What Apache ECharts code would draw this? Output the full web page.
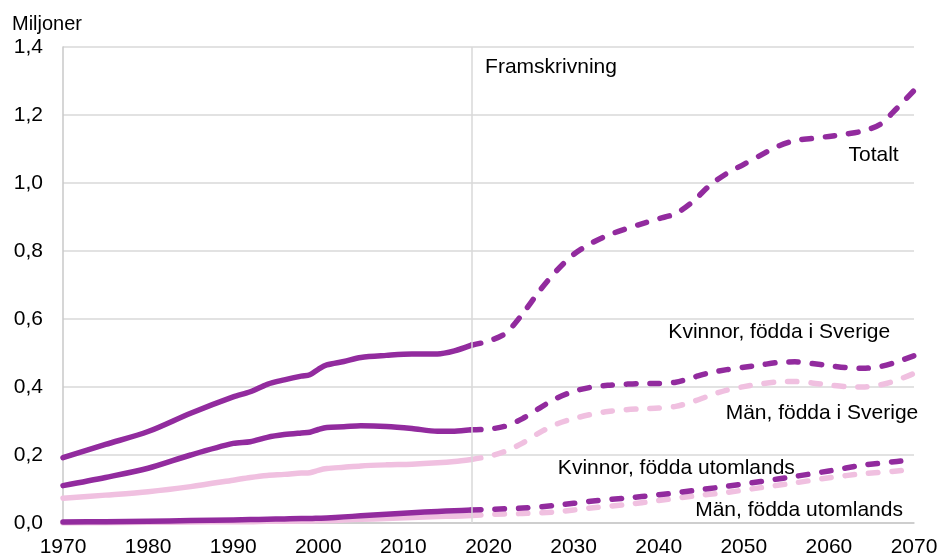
<!DOCTYPE html>
<html>
<head>
<meta charset="utf-8">
<script src="https://cdn.jsdelivr.net/npm/echarts@6/dist/echarts.min.js"></script>
<style>
html,body{margin:0;padding:0;background:#fff;}
#c{width:942px;height:560px;}
</style>
</head>
<body>
<div id="c"></div>
<script>
// ---- data ----
var yearsHist  = [1970, 1975, 1980, 1985, 1990, 1992, 1994, 1996, 1998, 1999, 2000, 2001, 2003, 2005, 2008, 2011, 2014, 2016, 2018];
var totalHist  = [0.192, 0.231, 0.269, 0.323, 0.371, 0.386, 0.408, 0.421, 0.432, 0.436, 0.452, 0.465, 0.475, 0.487, 0.493, 0.497, 0.497, 0.506, 0.523];
var kvSveHist  = [0.110, 0.134, 0.161, 0.200, 0.234, 0.239, 0.252, 0.260, 0.265, 0.267, 0.275, 0.281, 0.283, 0.286, 0.284, 0.278, 0.270, 0.270, 0.274];
var manSveHist = [0.073, 0.082, 0.092, 0.107, 0.126, 0.134, 0.140, 0.143, 0.147, 0.148, 0.155, 0.160, 0.164, 0.168, 0.171, 0.173, 0.177, 0.181, 0.187];
var kvUtlHist  = [0.003, 0.004, 0.005, 0.007, 0.009, 0.010, 0.011, 0.012, 0.013, 0.013, 0.014, 0.015, 0.018, 0.021, 0.026, 0.030, 0.034, 0.036, 0.038];
var manUtlHist = [0.000, 0.001, 0.002, 0.003, 0.004, 0.004, 0.005, 0.005, 0.006, 0.006, 0.007, 0.007, 0.009, 0.011, 0.013, 0.016, 0.019, 0.020, 0.022];

var yearsProj  = [2018, 2020, 2022, 2024, 2026, 2028, 2030, 2032, 2034, 2036, 2038, 2040, 2042, 2044, 2046, 2048, 2050, 2052, 2054, 2056, 2058, 2060, 2062, 2064, 2066, 2068, 2070];
var totalProj  = [0.523, 0.535, 0.558, 0.615, 0.683, 0.742, 0.790, 0.822, 0.846, 0.864, 0.880, 0.895, 0.910, 0.945, 0.993, 1.028, 1.055, 1.082, 1.108, 1.125, 1.131, 1.137, 1.144, 1.153, 1.172, 1.220, 1.272];
var kvSveProj  = [0.274, 0.276, 0.285, 0.307, 0.338, 0.367, 0.387, 0.399, 0.405, 0.408, 0.410, 0.410, 0.414, 0.428, 0.442, 0.451, 0.458, 0.465, 0.472, 0.474, 0.469, 0.463, 0.457, 0.455, 0.460, 0.474, 0.492];
var manSveProj = [0.187, 0.196, 0.211, 0.235, 0.266, 0.291, 0.307, 0.319, 0.328, 0.333, 0.336, 0.338, 0.343, 0.357, 0.375, 0.391, 0.401, 0.409, 0.415, 0.416, 0.412, 0.406, 0.401, 0.400, 0.406, 0.420, 0.440];

var yearsProjUtl = [2018, 2020, 2024, 2028, 2032, 2036, 2040, 2044, 2048, 2052, 2056, 2060, 2064, 2068, 2070];
var kvUtlProj    = [0.038, 0.040, 0.044, 0.052, 0.064, 0.073, 0.083, 0.095, 0.108, 0.122, 0.137, 0.153, 0.170, 0.181, 0.186];
var manUtlProj   = [0.022, 0.025, 0.028, 0.033, 0.044, 0.054, 0.066, 0.079, 0.090, 0.104, 0.118, 0.133, 0.145, 0.153, 0.158];

var projStartYear = 2018;
var yAxisTitle = 'Miljoner';
var projTitle = 'Framskrivning';
var seriesNames = ['Totalt', 'Kvinnor, födda i Sverige', 'Män, födda i Sverige', 'Kvinnor, födda utomlands', 'Män, födda utomlands'];
// label anchors in data coordinates [year, value]
var labelAnchors = [[2068.2, 1.082], [2067.2, 0.562], [2070.5, 0.324], [2056.0, 0.162], [2068.7, 0.038]];
var projAnchor = [2019.6, 1.341];

// ---- styles ----
var DARK = '#922B9E';
var PINK = '#F0C0E0';
var FONT = 'Liberation Sans, Arial, sans-serif';
var FS = 21;

function pairs(xs, ys){ return xs.map(function(x,i){ return [x, ys[i]]; }); }

function mk(name, xs, ys, color, dashed, extra){
  var s = {
    name: name,
    type: 'line',
    data: pairs(xs, ys),
    smooth: 0.3,
    showSymbol: false,
    symbol: 'none',
    silent: true,
    lineStyle: { color: color, width: 5.5, cap: 'round', join: 'round' }
  };
  if (dashed) { s.lineStyle.type = [9.5, 14]; }
  if (extra) { for (var k in extra) s[k] = extra[k]; }
  return s;
}

var chart = echarts.init(document.getElementById('c'), null, {renderer: 'canvas'});

var series = [
  mk('mu_h', yearsHist, manUtlHist, PINK, false),
  mk('ms_h', yearsHist, manSveHist, PINK, false),
  mk('ku_h', yearsHist, kvUtlHist, DARK, false),
  mk('ks_h', yearsHist, kvSveHist, DARK, false),
  mk('t_h', yearsHist, totalHist, DARK, false, {
    markLine: {
      silent: true, symbol: 'none', label: {show: false},
      lineStyle: {color: '#D9D9D9', width: 1.5, type: 'solid'},
      data: [{xAxis: projStartYear}]
    }
  }),
  mk('mu_p', yearsProjUtl, manUtlProj, PINK, true),
  mk('ms_p', yearsProj, manSveProj, PINK, true),
  mk('ku_p', yearsProjUtl, kvUtlProj, DARK, true),
  mk('ks_p', yearsProj, kvSveProj, DARK, true),
  mk('t_p', yearsProj, totalProj, DARK, true)
];

chart.setOption({
  animation: false,
  backgroundColor: '#fff',
  grid: { left: 63, right: 28, top: 47, bottom: 37, containLabel: false },
  xAxis: {
    type: 'value', min: 1970, max: 2070, interval: 10,
    axisLine: { show: true, lineStyle: { color: '#C8C8C8', width: 1.5 } },
    axisTick: { show: false },
    splitLine: { show: false },
    axisLabel: { color: '#000', fontFamily: FONT, fontSize: FS, margin: 14, formatter: function(v){ return String(v); } }
  },
  yAxis: {
    type: 'value', min: 0, max: 1.4, interval: 0.2,
    axisLine: { show: true, lineStyle: { color: '#C8C8C8', width: 1.5 } },
    axisTick: { show: false },
    splitLine: { show: true, lineStyle: { color: '#D9D9D9', width: 1.5 } },
    axisLabel: { color: '#000', fontFamily: FONT, fontSize: FS, margin: 20,
      formatter: function(v){ return v.toFixed(1).replace('.', ','); } }
  },
  series: series
});

var gfx = [];
gfx.push({ type: 'text', x: 12, y: 24, style: { text: yAxisTitle, fill: '#000', font: '20px ' + FONT, textAlign: 'left', textVerticalAlign: 'middle' } });
var pp = chart.convertToPixel({gridIndex: 0}, projAnchor);
gfx.push({ type: 'text', x: pp[0], y: pp[1], style: { text: projTitle, fill: '#000', font: FS + 'px ' + FONT, textAlign: 'left', textVerticalAlign: 'middle' } });
labelAnchors.forEach(function(a, i){
  var p = chart.convertToPixel({gridIndex: 0}, a);
  gfx.push({ type: 'text', x: p[0], y: p[1], style: { text: seriesNames[i], fill: '#000', font: FS + 'px ' + FONT, textAlign: 'right', textVerticalAlign: 'middle' } });
});
chart.setOption({ graphic: gfx });
</script>
</body>
</html>
